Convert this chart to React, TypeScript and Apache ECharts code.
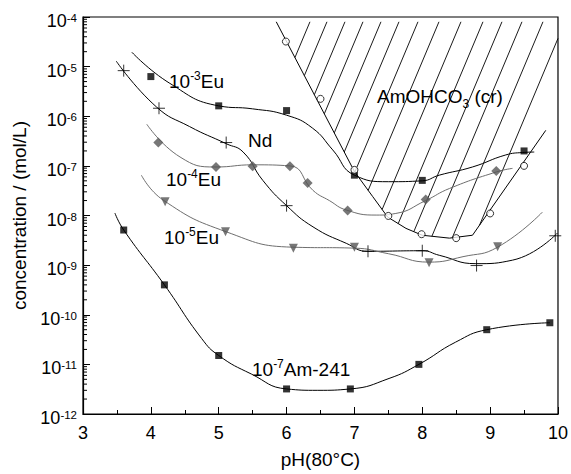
import React, { useEffect, useRef } from "react";
import * as echarts from "echarts";

// ---------- data ----------
// 10^-3 Eu (black squares + fitted curve)
const eu3X = [4.0, 5.0, 6.0, 7.0, 8.0, 9.5];
const eu3Y = [6.3e-6, 1.62e-6, 1.3e-6, 6.5e-8, 5.1e-8, 2.0e-7];
const eu3FitX = [3.72, 4.28, 5.0, 5.5, 6.0, 6.38, 6.68, 7.0, 7.5, 8.0, 8.25, 8.74, 9.23, 9.48, 9.65];
const eu3FitY = [1.95e-5, 4.6e-6, 1.62e-6, 1.41e-6, 1.05e-6, 5.8e-7, 2.1e-7, 6.5e-8, 4.8e-8, 5.0e-8, 6.5e-8, 9.5e-8, 1.66e-7, 1.86e-7, 1.9e-7];

// Nd (crosses + curve)
const ndX = [3.6, 4.12, 5.11, 6.0, 7.2, 8.0, 8.8, 9.96];
const ndY = [8.3e-6, 1.45e-6, 2.95e-7, 1.58e-8, 1.9e-9, 1.95e-9, 9.8e-10, 3.9e-9];
const ndFitX = [3.49, 4.08, 4.57, 5.11, 5.36, 5.65, 6.0, 6.39, 6.88, 7.2, 8.0, 8.25, 8.79, 9.33, 9.99];
const ndFitY = [1.29e-5, 1.55e-6, 6.2e-7, 2.8e-7, 1.9e-7, 5.1e-8, 1.58e-8, 5.9e-9, 2.75e-9, 1.9e-9, 1.95e-9, 1.58e-9, 1.07e-9, 1.26e-9, 4.4e-9];

// 10^-4 Eu (grey diamonds + curve)
const eu4X = [4.11, 4.96, 5.5, 6.05, 6.31, 6.9, 8.05, 9.09];
const eu4Y = [2.95e-7, 9.5e-8, 9.8e-8, 9.8e-8, 4.5e-8, 1.26e-8, 2.1e-8, 7.9e-8];
const eu4FitX = [3.94, 4.43, 4.96, 5.5, 6.05, 6.39, 6.63, 6.88, 7.32, 7.61, 8.05, 8.4, 9.1, 9.33];
const eu4FitY = [6.9e-7, 1.51e-7, 9.5e-8, 1.05e-7, 1.0e-7, 3.2e-8, 2.0e-8, 1.29e-8, 1.02e-8, 1.1e-8, 2.0e-8, 3.5e-8, 7.6e-8, 8.9e-8];

// 10^-5 Eu (grey down-triangles + curve)
const eu5X = [4.21, 5.1, 6.1, 7.0, 8.1, 9.11];
const eu5Y = [1.9e-8, 4.7e-9, 2.2e-9, 2.3e-9, 1.12e-9, 2.35e-9];
const eu5FitX = [3.86, 4.18, 5.11, 6.09, 7.0, 7.5, 8.1, 8.6, 9.11, 9.77];
const eu5FitY = [6.5e-8, 2.05e-8, 4.7e-9, 2.3e-9, 2.2e-9, 1.7e-9, 1.15e-9, 1.48e-9, 2.3e-9, 1.17e-8];

// 10^-7 Am-241 (black squares + curve)
const amX = [3.6, 4.2, 5.0, 6.0, 6.94, 7.95, 8.95, 9.88];
const amY = [5.1e-9, 4.0e-10, 1.51e-11, 3.2e-12, 3.2e-12, 1.0e-11, 5.0e-11, 6.9e-11];
const amFitX = [3.47, 3.6, 4.2, 4.75, 5.0, 5.48, 6.0, 6.46, 6.94, 7.51, 7.95, 8.49, 8.95, 9.88];
const amFitY = [1.12e-8, 5.1e-9, 4.0e-10, 3.3e-11, 1.51e-11, 6.4e-12, 3.2e-12, 3.0e-12, 3.2e-12, 5.2e-12, 1.0e-11, 2.8e-11, 5.0e-11, 6.9e-11];

// AmOHCO3(cr) solubility (open circles + boundary)
const solX = [5.99, 6.5, 7.0, 7.5, 7.99, 8.5, 9.0, 9.5];
const solY = [3.2e-5, 2.24e-6, 8.3e-8, 9.8e-9, 4.2e-9, 3.5e-9, 1.1e-8, 1.0e-7];
const solBoundX = [5.848, 7.0, 7.27, 7.49, 7.76, 8.0, 8.4, 8.74, 9.82];
const solBoundY = [8.0e-5, 7.7e-8, 2.4e-8, 9.3e-9, 5.5e-9, 4.0e-9, 3.5e-9, 4.0e-9, 5.2e-7];
// hatched region = boundary closed along the right edge and the top
const hatchX = [...solBoundX, 10, 10];
const hatchY = [...solBoundY, 1.19e-6, 8.0e-5];

// axes
const xMin = 3;
const xMax = 10;
const yMinExp = -12;
const yMaxExp = -4;

const FONT = "'Liberation Sans', Arial, Helvetica, sans-serif";
const GREY_LINE = "#6e6e6e";
const GREY_MARK = "#555555";
const GREY_TEXT = "#666666";

const zip = (xs: number[], ys: number[]) => xs.map((x, i) => [x, ys[i]]);

// hatch line anchors: x pixel positions where hatch lines meet the top
const HATCH_TOPS = [310, 327, 345, 363, 381, 399, 418, 439, 461, 483, 502, 522, 543, 565];
const HATCH_SLOPE = 0.42; // dx per -dy
const HATCH_TOP_Y = 21.7;

export default function App() {
  const ref = useRef<HTMLDivElement>(null);

  useEffect(() => {
    if (!ref.current) return;
    const chart = echarts.init(ref.current, undefined, { renderer: "svg" });

    const minorTickVals: number[] = [];
    for (let e = yMinExp; e < yMaxExp; e++) {
      for (let m = 2; m <= 9; m++) minorTickVals.push(m * Math.pow(10, e));
    }

    const richLabel = {
      b: { fontFamily: FONT, fontSize: 18, lineHeight: 18, padding: [8, 0, 0, 0], color: "#000" },
      e: { fontFamily: FONT, fontSize: 11.5, lineHeight: 12, padding: [4, 0, 0, 0], verticalAlign: "top", color: "#000" },
    };

    const plotRich = (color: string) => ({
      b: { fontFamily: FONT, fontSize: 19, lineHeight: 19, padding: [7, 0, 0, 0], color },
      e: { fontFamily: FONT, fontSize: 12, lineHeight: 12, padding: [2, 0, 0, 0], verticalAlign: "top", color },
    });

    const fitLine = (data: number[][], color: string) => ({
      type: "line",
      data,
      smooth: 0.5,
      symbol: "none",
      lineStyle: { color, width: 1 },
      z: 3,
      silent: true,
    });

    const option: any = {
      animation: false,
      backgroundColor: "#ffffff",
      grid: {
        left: 83,
        right: 12,
        top: 17,
        bottom: 60,
        show: true,
        borderColor: "#000",
        borderWidth: 1.2,
        backgroundColor: "transparent",
      },
      xAxis: {
        type: "value",
        min: xMin,
        max: xMax,
        interval: 1,
        name: "pH(80°C)",
        nameLocation: "middle",
        nameGap: 36,
        nameTextStyle: { fontFamily: FONT, fontSize: 19, color: "#000" },
        axisLine: { show: true, onZero: false, lineStyle: { color: "#000", width: 1.2 } },
        axisTick: { show: true, inside: true, length: 7, lineStyle: { color: "#000", width: 1 } },
        minorTick: { show: true, splitNumber: 2, length: 4, lineStyle: { color: "#000", width: 1 } },
        axisLabel: { fontFamily: FONT, fontSize: 18, color: "#000", margin: 10 },
        splitLine: { show: false },
      },
      yAxis: {
        type: "log",
        logBase: 10,
        min: Math.pow(10, yMinExp),
        max: Math.pow(10, yMaxExp),
        splitNumber: 8,
        name: "concentration / (mol/L)",
        nameLocation: "middle",
        nameGap: 46,
        nameTextStyle: { fontFamily: FONT, fontSize: 19, color: "#000" },
        axisLine: { show: true, onZero: false, lineStyle: { color: "#000", width: 1.2 } },
        axisTick: { show: true, inside: true, length: 7, lineStyle: { color: "#000", width: 1 } },
        axisLabel: {
          margin: 6,
          formatter: (v: number) => `{b|10}{e|${Math.round(Math.log10(v))}}`,
          rich: richLabel,
        },
        splitLine: { show: false },
      },
      series: [
        // hatched region
        {
          type: "custom",
          silent: true,
          z: 1,
          data: [[7, 1e-6]],
          renderItem: (_params: any, api: any) => {
            const pts = hatchX.map((x, i) => api.coord([x, hatchY[i]]));
            const n = pts.length;
            const children: any[] = [];
            for (const top of HATCH_TOPS) {
              const c = top + HATCH_SLOPE * HATCH_TOP_Y;
              const hits: number[][] = [];
              for (let i = 0; i < n; i++) {
                const p1 = pts[i];
                const p2 = pts[(i + 1) % n];
                const f1 = p1[0] + HATCH_SLOPE * p1[1] - c;
                const f2 = p2[0] + HATCH_SLOPE * p2[1] - c;
                if ((f1 < 0) !== (f2 < 0)) {
                  const t = f1 / (f1 - f2);
                  hits.push([p1[0] + t * (p2[0] - p1[0]), p1[1] + t * (p2[1] - p1[1])]);
                }
              }
              hits.sort((a, b) => a[1] - b[1]);
              for (let j = 0; j + 1 < hits.length; j += 2) {
                children.push({
                  type: "line",
                  shape: { x1: hits[j][0], y1: hits[j][1], x2: hits[j + 1][0], y2: hits[j + 1][1] },
                  style: { stroke: "#000", lineWidth: 0.9 },
                });
              }
            }
            return { type: "group", children };
          },
        },
        // minor log ticks on the y axis
        {
          type: "custom",
          silent: true,
          clip: false,
          z: 5,
          data: [[3, 1e-8]],
          renderItem: (_params: any, api: any) => {
            const children = minorTickVals.map((v) => {
              const p = api.coord([xMin, v]);
              return {
                type: "line",
                shape: { x1: p[0], y1: p[1], x2: p[0] + 4, y2: p[1] },
                style: { stroke: "#000", lineWidth: 1 },
              };
            });
            return { type: "group", children };
          },
        },
        // boundary of AmOHCO3(cr)
        {
          type: "line",
          data: zip(solBoundX, solBoundY),
          smooth: false,
          symbol: "none",
          lineStyle: { color: "#000", width: 1 },
          z: 3,
          silent: true,
        },
        fitLine(zip(eu3FitX, eu3FitY), "#000"),
        fitLine(zip(ndFitX, ndFitY), "#000"),
        fitLine(zip(eu4FitX, eu4FitY), GREY_LINE),
        fitLine(zip(eu5FitX, eu5FitY), GREY_LINE),
        fitLine(zip(amFitX, amFitY), "#000"),
        {
          type: "scatter",
          data: zip(eu3X, eu3Y),
          symbol: "rect",
          symbolSize: 7,
          itemStyle: { color: "#000" },
          z: 6,
        },
        {
          type: "scatter",
          data: zip(ndX, ndY),
          symbol: "path://M0,6L12,6M6,0L6,12",
          symbolSize: 12,
          itemStyle: { color: "rgba(0,0,0,0)", borderColor: "#000", borderWidth: 1 },
          z: 6,
        },
        {
          type: "scatter",
          data: zip(eu4X, eu4Y),
          symbol: "diamond",
          symbolSize: 10,
          itemStyle: { color: GREY_MARK },
          z: 6,
        },
        {
          type: "scatter",
          data: zip(eu5X, eu5Y),
          symbol: "triangle",
          symbolRotate: 180,
          symbolSize: 9,
          itemStyle: { color: GREY_MARK },
          z: 6,
        },
        {
          type: "scatter",
          data: zip(amX, amY),
          symbol: "rect",
          symbolSize: 7,
          itemStyle: { color: "#000" },
          z: 6,
        },
        {
          type: "scatter",
          data: zip(solX, solY),
          symbol: "circle",
          symbolSize: 7,
          itemStyle: { color: "#fff", borderColor: "#000", borderWidth: 1 },
          z: 6,
        },
      ],
      graphic: [
        {
          type: "text",
          x: 169,
          y: 68,
          z: 10,
          style: { text: "{b|10}{e|-3}{b|Eu}", rich: plotRich("#000"), align: "left", verticalAlign: "top" },
        },
        {
          type: "text",
          x: 248,
          y: 127,
          z: 10,
          style: { text: "{b|Nd}", rich: plotRich("#000"), align: "left", verticalAlign: "top" },
        },
        {
          type: "text",
          x: 166,
          y: 166,
          z: 10,
          style: { text: "{b|10}{e|-4}{b|Eu}", rich: plotRich(GREY_TEXT), align: "left", verticalAlign: "top" },
        },
        {
          type: "text",
          x: 164,
          y: 224,
          z: 10,
          style: { text: "{b|10}{e|-5}{b|Eu}", rich: plotRich(GREY_TEXT), align: "left", verticalAlign: "top" },
        },
        {
          type: "text",
          x: 252,
          y: 356,
          z: 10,
          style: { text: "{b|10}{e|-7}{b|Am-241}", rich: plotRich("#000"), align: "left", verticalAlign: "top" },
        },
        {
          type: "text",
          x: 377,
          y: 91,
          z: 10,
          style: {
            text: "{a|AmOHCO}{s|3}{a| (cr)}",
            rich: {
              a: { fontFamily: FONT, fontSize: 19, lineHeight: 19, padding: [0, 0, 8, 0], color: "#000" },
              s: { fontFamily: FONT, fontSize: 12, lineHeight: 12, verticalAlign: "bottom", color: "#000" },
            },
            align: "left",
            verticalAlign: "top",
          },
        },
      ],
    };

    chart.setOption(option);
    return () => chart.dispose();
  }, []);

  return (
    <div style={{ position: "fixed", left: 0, top: 0, width: 571, height: 474, background: "#fff" }}>
      <div ref={ref} style={{ width: 571, height: 474 }} />
    </div>
  );
}
